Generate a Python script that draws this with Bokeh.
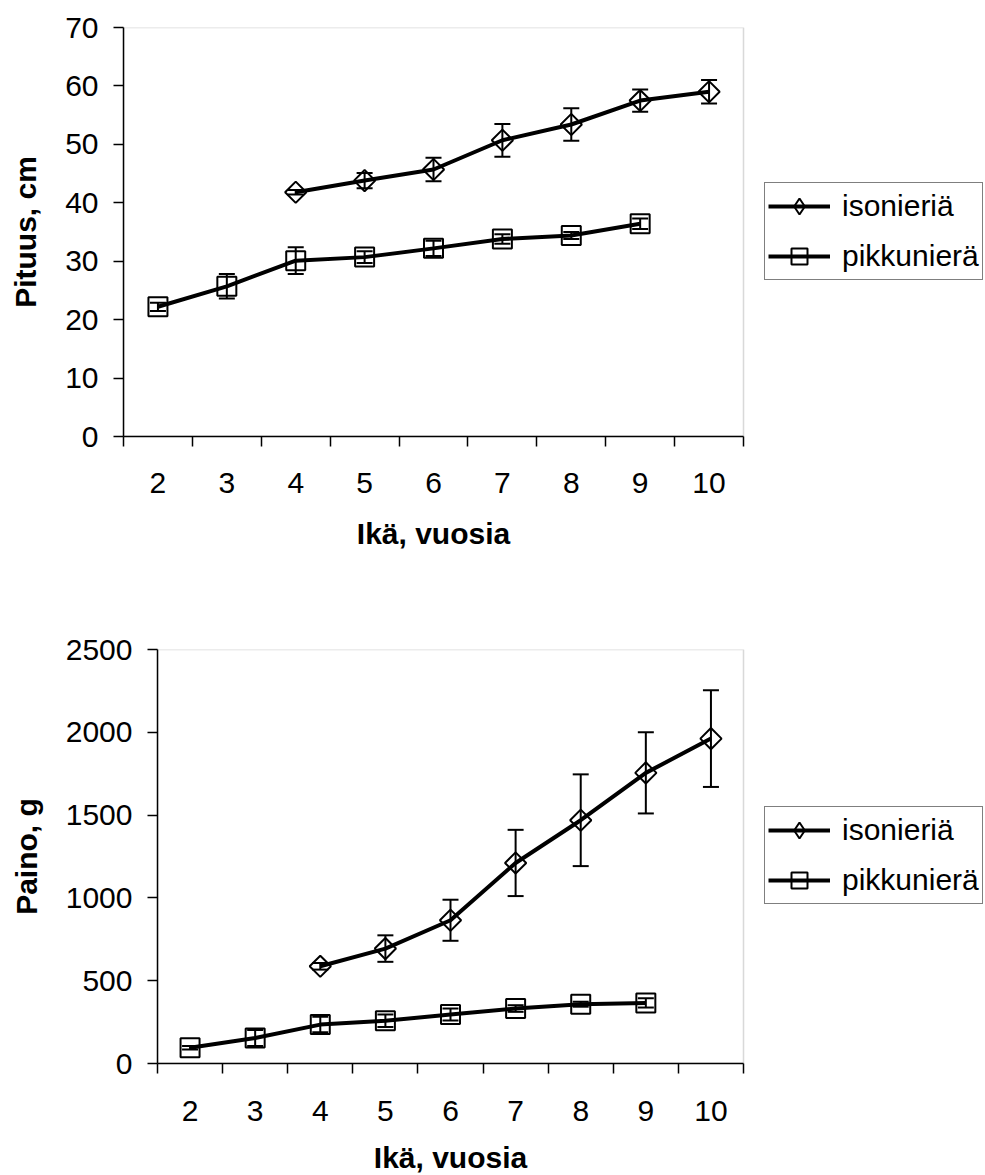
import math
from bokeh.plotting import figure
from bokeh.models import (Range1d, FixedTicker, Whisker, ColumnDataSource,
                          Legend, LegendItem, TeeHead, BoxAnnotation, Title)
from bokeh.embed import file_html
from bokeh.resources import INLINE

# ---------------- data ----------------
ages_all = [2, 3, 4, 5, 6, 7, 8, 9, 10]
ages_iso = [4, 5, 6, 7, 8, 9, 10]
ages_pikku = [2, 3, 4, 5, 6, 7, 8, 9]

# Pituus (cm)
len_iso = [41.8, 43.8, 45.7, 50.7, 53.4, 57.5, 59.0]
len_iso_err = [0.4, 1.3, 2.0, 2.8, 2.8, 1.9, 2.0]
len_pikku = [22.2, 25.7, 30.1, 30.7, 32.2, 33.8, 34.4, 36.4]
len_pikku_err = [0.7, 2.1, 2.3, 1.0, 1.3, 0.8, 0.6, 0.9]

# Paino (g)
w_iso = [587, 694, 865, 1211, 1469, 1755, 1962]
w_iso_err = [20, 80, 124, 200, 277, 245, 292]
w_pikku = [95, 154, 235, 258, 296, 332, 358, 366]
w_pikku_err = [10, 48, 47, 38, 36, 20, 15, 28]

len_ticks = [0, 10, 20, 30, 40, 50, 60, 70]
w_ticks = [0, 500, 1000, 1500, 2000, 2500]

series_names = ["isonieriä", "pikkunierä"]
x_title = "Ikä, vuosia"
FONT = "Liberation Sans"
FIG_W = 985
X_TITLE_W = 153.4   # approx. rendered width of the bold 30px x title


def make_chart(height, top, left, plot_w, fh, ymax, yticks, ytitle,
               iso_v, iso_e, pik_v, pik_e, legend_xy, xlab_standoff, xtitle_standoff):
    x0 = ages_all[0] - 0.5
    x1 = ages_all[-1] + 0.5
    # frame spans to the right edge of the page; the plot area ends at x1
    frame_w = FIG_W - left
    x_end = x0 + (x1 - x0) * frame_w / plot_w
    p = figure(width=FIG_W, height=height, output_backend="svg", toolbar_location=None,
               x_range=Range1d(x0, x_end), y_range=Range1d(0, ymax),
               min_border_left=left, min_border_top=top, min_border_right=0,
               min_border_bottom=height - top - fh)
    p.background_fill_color = "white"
    p.border_fill_color = "white"
    p.outline_line_color = None
    p.xgrid.visible = False
    p.ygrid.visible = False

    # plot-area border (Excel style, grey)
    p.add_layout(BoxAnnotation(left=x0, right=x1, bottom=0, top=ymax,
                               fill_alpha=0, line_color="#808080", line_width=1.5,
                               level="underlay"))

    xa = p.xaxis[0]
    xa.bounds = (x0, x1)
    xa.ticker = FixedTicker(ticks=ages_all,
                            minor_ticks=[a - 0.5 for a in ages_all] + [x1])
    xa.major_tick_out = 0
    xa.major_tick_in = 0
    xa.minor_tick_out = 10
    xa.minor_tick_in = 0
    xa.minor_tick_line_color = "black"
    xa.minor_tick_line_width = 1.5
    xa.axis_line_color = "black"
    xa.axis_line_width = 1.5
    xa.major_label_text_font = FONT
    xa.major_label_text_font_size = "30px"
    xa.major_label_text_color = "black"
    xa.major_label_standoff = xlab_standoff

    # x-axis title, centred under the plot area (not the whole frame)
    p.add_layout(Title(text=x_title, align="left", offset=(plot_w - X_TITLE_W) / 2.0,
                       text_font=FONT, text_font_size="30px", text_font_style="bold",
                       text_color="black", standoff=xtitle_standoff), "below")

    ya = p.yaxis[0]
    ya.ticker = FixedTicker(ticks=yticks, minor_ticks=[])
    ya.major_tick_out = 10
    ya.major_tick_in = 0
    ya.major_tick_line_color = "black"
    ya.major_tick_line_width = 1.5
    ya.minor_tick_line_color = None
    ya.axis_line_color = "black"
    ya.axis_line_width = 1.5
    ya.major_label_text_font = FONT
    ya.major_label_text_font_size = "30px"
    ya.major_label_text_color = "black"
    ya.major_label_standoff = 15
    ya.axis_label = ytitle
    ya.axis_label_text_font = FONT
    ya.axis_label_text_font_size = "30px"
    ya.axis_label_text_font_style = "bold"
    ya.axis_label_text_color = "black"
    ya.axis_label_standoff = 20

    items = []
    for ages, vals, errs, marker, msize, angle, leg_marker, name in [
        (ages_iso, iso_v, iso_e, "square", 15, math.pi / 4, "diamond", series_names[0]),
        (ages_pikku, pik_v, pik_e, "square", 19, 0.0, "square", series_names[1]),
    ]:
        src = ColumnDataSource(dict(
            x=ages, y=vals,
            upper=[v + e for v, e in zip(vals, errs)],
            lower=[v - e for v, e in zip(vals, errs)]))
        wh = Whisker(base="x", upper="upper", lower="lower", source=src,
                     line_color="black", line_width=2, level="glyph",
                     upper_head=TeeHead(size=16, line_color="black", line_width=2),
                     lower_head=TeeHead(size=16, line_color="black", line_width=2))
        p.add_layout(wh)
        ln = p.line("x", "y", source=src, line_color="black", line_width=4)
        sc = p.scatter("x", "y", source=src, marker=marker, size=msize, angle=angle,
                       fill_color=None, line_color="black", line_width=2)
        if angle != 0.0:
            # legend symbol (legend glyphs ignore rotation): hidden twin renderer
            sym = p.scatter("x", "y", source=src, marker=leg_marker, size=msize,
                            fill_color=None, line_color="black", line_width=2,
                            visible=False)
            items.append(LegendItem(label=name, renderers=[ln, sym]))
        else:
            items.append(LegendItem(label=name, renderers=[ln, sc]))

    leg = Legend(items=items, location=legend_xy)
    leg.border_line_color = "black"
    leg.border_line_width = 1
    leg.background_fill_color = "white"
    leg.background_fill_alpha = 1.0
    leg.inactive_fill_alpha = 0.0
    leg.label_text_font = FONT
    leg.label_text_font_size = "30px"
    leg.label_text_color = "black"
    leg.glyph_width = 62
    leg.glyph_height = 40
    leg.label_height = 40
    leg.spacing = 10
    leg.padding = 3
    leg.label_standoff = 12
    leg.margin = 0
    p.add_layout(leg)
    return p


p1 = make_chart(height=579, top=27, left=123, plot_w=620, fh=409, ymax=70,
                yticks=len_ticks, ytitle="Pituus, cm",
                iso_v=len_iso, iso_e=len_iso_err, pik_v=len_pikku, pik_e=len_pikku_err,
                legend_xy=(641, 156), xlab_standoff=26, xtitle_standoff=38)
p2 = make_chart(height=609, top=70, left=157, plot_w=586, fh=414, ymax=2500,
                yticks=w_ticks, ytitle="Paino, g",
                iso_v=w_iso, iso_e=w_iso_err, pik_v=w_pikku, pik_e=w_pikku_err,
                legend_xy=(607, 159), xlab_standoff=27, xtitle_standoff=30)

open("out.html", "w").write(file_html([p1, p2], INLINE))
